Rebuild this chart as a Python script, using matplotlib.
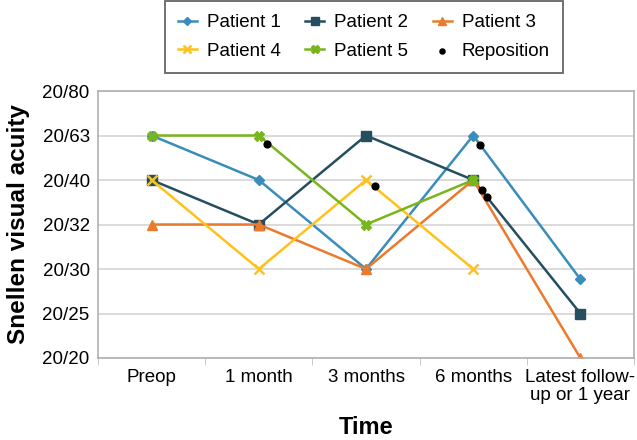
import matplotlib
matplotlib.use("Agg")
import matplotlib.pyplot as plt
import numpy as np

plt.rcParams['font.family'] = ['Liberation Sans', 'DejaVu Sans']

categories = ["Preop", "1 month", "3 months", "6 months", "Latest follow-\nup or 1 year"]
acuity_labels = ["20/20", "20/25", "20/30", "20/32", "20/40", "20/63", "20/80"]

# values are indices into acuity_labels (None = no measurement)
patient1 = [5, 4, 2, 5, 1.77]
patient2 = [4, 3, 5, 4, 1]
patient3 = [3, 3, 2, 4, 0]
patient4 = [4, 2, 4, 2, None]
patient5 = [5, 5, 3, 4, None]

reposition_x = [1.08, 2.08, 3.06, 3.08, 3.13]
reposition_y = [4.82, 3.86, 4.78, 3.77, 3.61]

series = [
    ("Patient 1", patient1, "#3A8DBA", "D", 5.5),
    ("Patient 2", patient2, "#254E5F", "s", 7),
    ("Patient 3", patient3, "#EC7A2C", "^", 7),
    ("Patient 4", patient4, "#FFC21A", "x", 7),
    ("Patient 5", patient5, "#79B51C", "X", 7),
]

fig = plt.figure(figsize=(6.37, 4.40), dpi=100)
ax = fig.add_axes([98/637, 1-358/440, (634-98)/637, (358-91)/440])

handles = {}
for name, vals, color, mk, ms in series:
    xs = [i for i, v in enumerate(vals) if v is not None]
    ys = [v for v in vals if v is not None]
    kw = dict(color=color, lw=1.8, marker=mk, markersize=ms, label=name)
    if mk == "x":
        kw["markeredgewidth"] = 1.8
    h, = ax.plot(xs, ys, **kw)
    handles[name] = h

hr = ax.scatter(reposition_x, reposition_y, s=24, color="black", zorder=5, label="Reposition")
handles["Reposition"] = hr

ax.set_xlim(-0.5, 4.5)
ax.set_ylim(0, 6)
ax.set_yticks(range(len(acuity_labels)))
ax.set_yticklabels(acuity_labels, fontsize=13.5)
ax.set_xticks(range(len(categories)))
ax.set_xticklabels(categories, fontsize=13.5, va="top", linespacing=1.05)
ax.set_xticks(np.arange(-0.5, 4.6, 1), minor=True)
ax.tick_params(axis="x", which="major", length=0, pad=8)
ax.tick_params(axis="x", which="minor", length=5, color="#BFBFBF", direction="out")
ax.tick_params(axis="y", length=0, pad=6)
ax.yaxis.grid(True, color="#D4D4D4", lw=1.2)
ax.set_axisbelow(True)
for s in ax.spines.values():
    s.set_color("#B0B0B0")
    s.set_linewidth(1.2)

ax.set_xlabel("Time", fontsize=17, fontweight="bold")
ax.xaxis.set_label_coords(0.5, -(416 - 358) / 267)
ax.set_ylabel("Snellen visual acuity", fontsize=17.5, fontweight="bold", labelpad=9)

order = ["Patient 1", "Patient 4", "Patient 2", "Patient 5", "Patient 3", "Reposition"]
leg = fig.legend([handles[n] for n in order], order, ncol=3, fontsize=13.5,
                 loc="upper left", bbox_to_anchor=(165/637, 0.998), borderaxespad=0,
                 frameon=True, fancybox=False, edgecolor="#404040", handlelength=1.0,
                 columnspacing=1.3, handletextpad=0.55, borderpad=0.7,
                 labelspacing=0.6, markerscale=0.75)
leg.get_frame().set_linewidth(1.3)

fig.savefig("out.png", dpi=100)
